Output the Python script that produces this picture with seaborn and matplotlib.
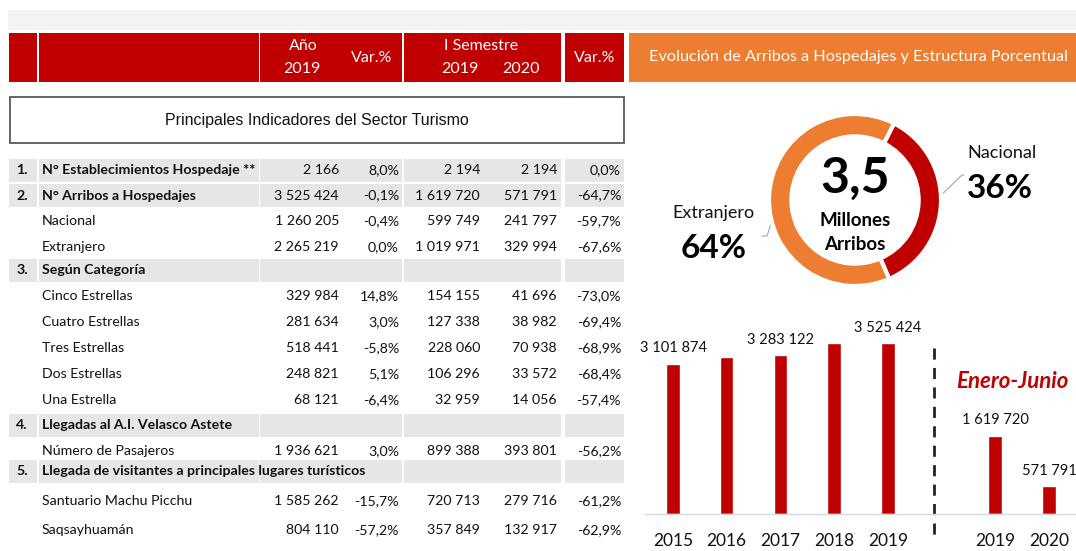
import matplotlib
matplotlib.use("Agg")
import matplotlib.pyplot as plt
import seaborn as sns
import pandas as pd
from matplotlib.patches import Rectangle

sns.set_theme(style="white")
plt.rcParams['font.family'] = ['Lato', 'DejaVu Sans']

# ---------------- data ----------------
header_top = ["Año", "Var.%", "I Semestre", "Var.%"]
header_years = ["2019", "2019", "2020"]
panel_title = "Evolución de Arribos a Hospedajes y Estructura Porcentual"
table_title = "Principales Indicadores del Sector Turismo"

row_nums = ["1.", "2.", "", "", "3.", "", "", "", "", "", "4.", "", "5.", "", ""]
row_labels = ["N° Establecimientos Hospedaje **", "N° Arribos a Hospedajes", "Nacional", "Extranjero",
              "Según Categoría", "Cinco Estrellas", "Cuatro Estrellas", "Tres Estrellas", "Dos Estrellas",
              "Una Estrella", "Llegadas al A.I. Velasco Astete", "Número de Pasajeros",
              "Llegada de visitantes a principales lugares turísticos", "Santuario Machu Picchu", "Saqsayhuamán"]
anio_2019 = ["2 166", "3 525 424", "1 260 205", "2 265 219", "", "329 984", "281 634", "518 441", "248 821",
             "68 121", "", "1 936 621", "", "1 585 262", "804 110"]
var_anio = ["8,0%", "-0,1%", "-0,4%", "0,0%", "", "14,8%", "3,0%", "-5,8%", "5,1%", "-6,4%", "", "3,0%", "",
            "-15,7%", "-57,2%"]
sem_2019 = ["2 194", "1 619 720", "599 749", "1 019 971", "", "154 155", "127 338", "228 060", "106 296",
            "32 959", "", "899 388", "", "720 713", "357 849"]
sem_2020 = ["2 194", "571 791", "241 797", "329 994", "", "41 696", "38 982", "70 938", "33 572", "14 056", "",
            "393 801", "", "279 716", "132 917"]
var_sem = ["0,0%", "-64,7%", "-59,7%", "-67,6%", "", "-73,0%", "-69,4%", "-68,9%", "-68,4%", "-57,4%", "",
           "-56,2%", "", "-61,2%", "-62,9%"]

donut_labels = ["Nacional", "Extranjero"]
donut_shares = [36, 64]
donut_total = "3,5"
donut_unit = ["Millones", "Arribos"]

years = ["2015", "2016", "2017", "2018", "2019"]
arribos_anual = [3101874, 3237000, 3283122, 3529000, 3525424]
sem_years = ["2019", "2020"]
arribos_sem = [1619720, 571791]
bar_labeled = [True, False, True, False, True, True, True]
period_label = "Enero-Junio"

# ---------------- style / layout ----------------
RED = "#C00000"
ORANGE = "#ED7D31"
SHADE = "#E7E6E6"
W, H = 1076, 551

fig = plt.figure(figsize=(W / 100, H / 100), dpi=100)
fig.patch.set_facecolor("white")
bg = fig.add_axes([0, 0, 1, 1])
bg.set_xlim(0, W)
bg.set_ylim(H, 0)
bg.axis("off")

# top grey band
bg.add_patch(Rectangle((8, 10), W - 8, 20, color="#F3F3F3", lw=0))

# header cells
cols = [(9, 37), (39, 259), (260, 402), (404, 561), (565, 624)]
for x0, x1 in cols:
    bg.add_patch(Rectangle((x0, 33), x1 - x0, 49, color=RED, lw=0))
bg.add_patch(Rectangle((629, 33), W - 629, 49, color=ORANGE, lw=0))
hfs = 11.5
bg.text(303, 46, header_top[0], color="white", ha="center", va="center", fontsize=hfs)
bg.text(302, 69, header_years[0], color="white", ha="center", va="center", fontsize=hfs)
bg.text(372, 58, header_top[1], color="white", ha="center", va="center", fontsize=hfs)
bg.text(481, 46, header_top[2], color="white", ha="center", va="center", fontsize=hfs)
bg.text(460, 69, header_years[1], color="white", ha="center", va="center", fontsize=hfs)
bg.text(521, 69, header_years[2], color="white", ha="center", va="center", fontsize=hfs)
bg.text(595, 58, header_top[3], color="white", ha="center", va="center", fontsize=hfs)
bg.text(858, 57, panel_title, color="white", ha="center", va="center", fontsize=11.7)

# title box
bg.add_patch(Rectangle((10, 97), 614, 46, facecolor="white", edgecolor="#595959", lw=1.3))
bg.text(317, 121, table_title, ha="center", va="center", fontsize=11.5, color="#111111",
        family=["Liberation Sans", "DejaVu Sans"])

# table rows
row_y = [170, 195.5, 221, 247, 270.5, 296, 322, 348, 374, 400, 425, 451, 471, 501, 530]
right_edges = [339, 399, 480, 557, 621]
tfs = 10.2
for i, lab in enumerate(row_labels):
    y = row_y[i]
    is_head = row_nums[i] != ""
    if is_head:
        for x0, x1 in cols:
            bg.add_patch(Rectangle((x0, y - 11.5), x1 - x0, 23, color=SHADE, lw=0))
        bg.text(22, y, row_nums[i], ha="center", va="center", fontsize=tfs, fontweight="bold", color="#111111")
    bg.text(42, y, lab, ha="left", va="center", fontsize=tfs,
            fontweight="bold" if is_head else "normal", color="#111111")
    vals = [anio_2019[i], var_anio[i], sem_2019[i], sem_2020[i], var_sem[i]]
    for xr, v in zip(right_edges, vals):
        if v:
            bg.text(xr, y, v, ha="right", va="center", fontsize=tfs, color="#111111")

# ---------------- donut ----------------
cx, cy, R = 855, 200, 86
box = 92
axd = fig.add_axes([(cx - box) / W, (H - cy - box) / H, 2 * box / W, 2 * box / H])
axd.pie(donut_shares, colors=[RED, ORANGE], startangle=63, counterclock=False, radius=1,
        wedgeprops=dict(width=0.26, edgecolor="white", linewidth=3))
axd.set_xlim(-box / R, box / R)
axd.set_ylim(-box / R, box / R)
axd.set_aspect("equal")
axd.axis("off")
axd.patch.set_alpha(0)

bg.text(cx, 178, donut_total, ha="center", va="center", fontsize=36, fontweight="bold", color="black")
bg.text(cx, 220, donut_unit[0], ha="center", va="center", fontsize=13.5, fontweight="bold", color="black")
bg.text(cx, 245, donut_unit[1], ha="center", va="center", fontsize=13.5, fontweight="bold", color="black")
bg.text(1002, 153, donut_labels[0], ha="center", va="center", fontsize=13, color="#111111")
bg.text(1000, 189, f"{donut_shares[0]}%", ha="center", va="center", fontsize=24, fontweight="bold", color="black")
bg.text(713, 213, donut_labels[1], ha="center", va="center", fontsize=13, color="#111111")
bg.text(714, 248, f"{donut_shares[1]}%", ha="center", va="center", fontsize=24, fontweight="bold", color="black")
bg.plot([932, 962, 964], [204, 175, 175], color="#A5A5A5", lw=0.8)
bg.plot([780, 767, 762], [196, 236, 236], color="#A5A5A5", lw=0.8)

# ---------------- bars ----------------
order = years + ["gap"] + [s + " S1" for s in sem_years]
df = pd.DataFrame({"cat": years + [s + " S1" for s in sem_years],
                   "value": arribos_anual + arribos_sem})
base_y, top_y, left_x = 514, 290, 645
axb = fig.add_axes([left_x / W, (H - base_y) / H, (W - left_x) / W, (base_y - top_y) / H])
sns.barplot(data=df, x="cat", y="value", order=order, color=RED, saturation=1, width=0.25, ax=axb)
step = 53.7
axb.set_xlim(-(673 - left_x) / step, (W - 673) / step)
axb.set_ylim(0, max(arribos_anual) / 171 * (base_y - top_y))
axb.patch.set_alpha(0)
for s in ["top", "right", "left"]:
    axb.spines[s].set_visible(False)
axb.spines["bottom"].set_color("#D9D9D9")
axb.spines["bottom"].set_linewidth(1)
axb.set_yticks([])
axb.set_xlabel("")
axb.set_ylabel("")
axb.set_xticks(range(len(order)))
axb.set_xticklabels(years + [""] + sem_years, fontsize=12.5, color="#111111")
axb.tick_params(axis="x", length=0, pad=14)

plot_vals = arribos_anual + arribos_sem
plot_pos = [0, 1, 2, 3, 4, 6, 7]
for p, v, show in zip(plot_pos, plot_vals, bar_labeled):
    if show:
        txt = f"{v:,}".replace(",", " ")
        axb.annotate(txt, (p, v), xytext=(0, 11), textcoords="offset points",
                     ha="center", va="center", fontsize=10.5, color="#111111")

bg.plot([934, 934], [348, 537], color="#222222", lw=2, ls=(0, (4, 3)))
bg.text(1012, 382, period_label, ha="center", va="center", fontsize=16, fontweight="bold",
        fontstyle="italic", color=RED)

fig.savefig("out.png", dpi=100, facecolor="white")
